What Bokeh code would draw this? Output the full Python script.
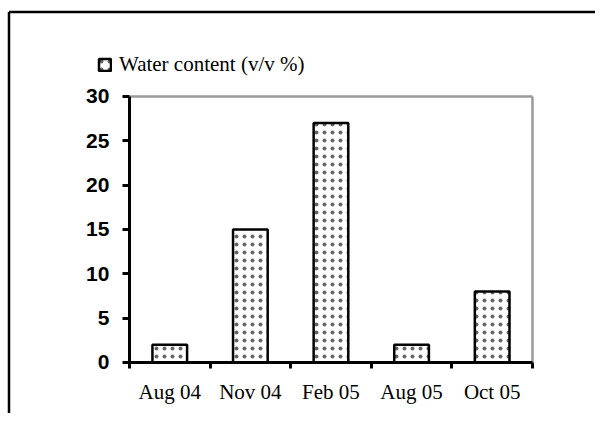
from bokeh.plotting import figure
from bokeh.models import Range1d, FixedTicker, LinearAxis, Legend, LegendItem, ColumnDataSource
from bokeh.embed import file_html
from bokeh.resources import INLINE

categories = ["Aug 04", "Nov 04", "Feb 05", "Aug 05", "Oct 05"]
water_content = [2, 15, 27, 2, 8]
y_ticks = [0, 5, 10, 15, 20, 25, 30]
series_name = "Water content (v/v %)"

n = len(categories)
ymax = y_ticks[-1]
xpos = [i + 0.5 for i in range(n)]
src = ColumnDataSource(dict(x=xpos, top=water_content, cat=categories))

# the frame covers the whole canvas; axes are placed at data 0 with fixed_location
X0, X1 = -1.600, 5.782
Y0, Y1 = -5.752, 40.827
p = figure(width=595, height=413, output_backend="svg", toolbar_location=None,
           x_range=Range1d(X0, X1), y_range=Range1d(Y0, Y1),
           min_border=0)
p.background_fill_color = "white"
p.border_fill_color = "white"
p.grid.visible = False
p.outline_line_color = None

# outer black frame (left and top edges visible)
fx = X0 + 0.1055
fy = Y1 - 1.30
p.segment(x0=[fx, fx], y0=[Y0, fy], x1=[fx, X1], y1=[fy, fy], line_color="black", line_width=2.5)

# gray plot-area border (top and right)
p.segment(x0=[0, n], y0=[ymax, 0], x1=[n, n], y1=[ymax, ymax], line_color="#9a9a9a", line_width=2.5)

r = p.vbar(x="x", top="top", bottom=0, width=0.43, source=src,
           fill_color="white", line_color="black", line_width=2.5,
           hatch_pattern="dot", hatch_color="#666666", hatch_scale=8, hatch_weight=1)

# y axis
ya = p.yaxis[0]
ya.fixed_location = 0
ya.bounds = (-0.56, ymax)
ya.ticker = FixedTicker(ticks=y_ticks)
ya.axis_line_width = 3
ya.axis_line_color = "black"
ya.major_tick_line_width = 3
ya.major_tick_out = 7
ya.major_tick_in = 0
ya.minor_tick_line_color = None
ya.major_label_text_font = "Liberation Sans"
ya.major_label_text_font_style = "bold"
ya.major_label_text_font_size = "21px"
ya.major_label_text_color = "black"
ya.major_label_standoff = 13

# x axis: boundary ticks
xa = p.xaxis[0]
xa.fixed_location = 0
xa.bounds = (0, n)
xa.ticker = FixedTicker(ticks=list(range(n + 1)))
xa.axis_line_width = 3
xa.axis_line_color = "black"
xa.major_tick_line_width = 3
xa.major_tick_out = 6
xa.major_tick_in = 0
xa.minor_tick_line_color = None
xa.major_label_text_font_size = "0px"
xa.major_label_standoff = 0

# x axis: category labels
xl = LinearAxis(ticker=FixedTicker(ticks=xpos), fixed_location=0, bounds=(0, n),
                major_label_overrides={x: c for x, c in zip(xpos, categories)})
xl.axis_line_color = None
xl.major_tick_line_color = None
xl.minor_tick_line_color = None
xl.major_label_text_font = "Liberation Serif"
xl.major_label_text_font_size = "21px"
xl.major_label_text_color = "black"
xl.major_label_standoff = 12
p.add_layout(xl, "below")

legend = Legend(items=[LegendItem(label=series_name, renderers=[r])],
                location=(97, 336), orientation="horizontal",
                padding=0, margin=0, border_line_color=None, background_fill_alpha=0,
                glyph_width=15, glyph_height=15, label_standoff=7,
                label_text_font="Liberation Serif", label_text_font_size="21px",
                label_text_color="black")
p.add_layout(legend, "center")

open("out.html", "w").write(file_html(p, INLINE))
